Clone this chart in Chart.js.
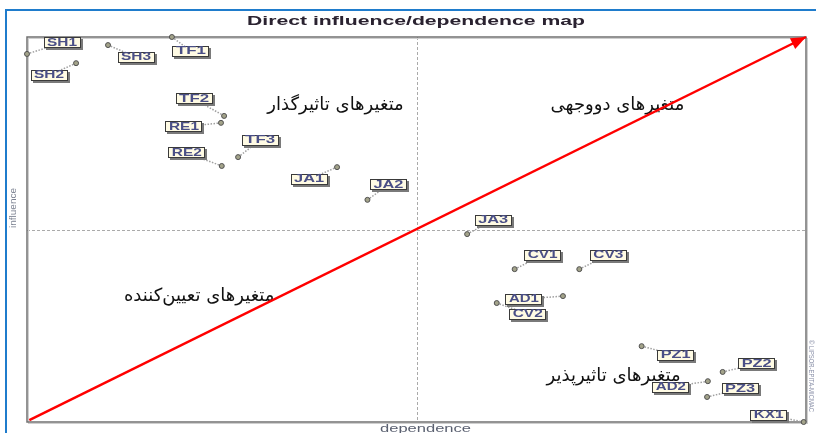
<!DOCTYPE html>
<html>
<head>
<meta charset="utf-8">
<script src="https://cdn.jsdelivr.net/npm/chart.js@4.4.1/dist/chart.umd.min.js"></script>
<style>
html,body{margin:0;padding:0;background:#fff;}
canvas{display:block;}
</style>
</head>
<body>
<canvas id="c" width="816" height="433"></canvas>
<script>
// ---- data ----
const names = ['SH1','SH2','SH3','TF1','TF2','RE1','TF3','RE2','JA1','JA2','JA3','CV1','CV3','AD1','CV2','PZ1','PZ2','AD2','PZ3','KX1'];
const dependence = [0.0, 6.3, 10.4, 18.6, 25.3, 24.9, 27.1, 25.0, 39.8, 43.7, 56.5, 62.6, 70.9, 68.8, 60.3, 78.9, 89.3, 87.4, 87.3, 99.7];
const influence  = [95.6, 93.2, 97.9, 100, 79.5, 77.7, 68.8, 66.5, 66.2, 57.7, 48.8, 39.7, 39.7, 32.7, 30.9, 19.7, 13.0, 10.6, 6.5, 0.0];
const axisMin = 0, axisMax = 100, axisMid = 50;
const arrowFrom = {x: 0.3, y: 0.5};
const arrowTo = {x: 100, y: 100};
const titleText = 'Direct influence/dependence map';
const xTitle = 'dependence';
const yTitle = 'influence';
const copyright = '© LIPSOR-EPITA-MICMAC';
const quadrantLabels = ['متغیرهای تاثیرگذار', 'متغیرهای دووجهی', 'متغیرهای تعیین‌کننده', 'متغیرهای تاثیرپذیر'];

// ---- layout (label offsets in px, quadrant label anchors in axis units) ----
const labelOffsets = [[35,-11],[-27,12],[28,12],[19,14],[-30,-17],[-37,4],[22,-17],[-35,-13],[-28,12],[21,-15],[26,-14],[28,-14],[29,-14],[-39,3],[31,11],[34,9],[34,-8],[-37,6],[33,-8],[-35,-7]];
const quadrantPos = [[39.6, 82.3],[75.8, 82.3],[22.1, 32.7],[75.3, 11.9]];

const points = dependence.map((d,i)=>({x:d, y:influence[i]}));

function stretchText(ctx, text, cx, cy, font, targetW, color){
  ctx.save();
  ctx.font = font;
  const w = ctx.measureText(text).width;
  const s = targetW / w;
  ctx.translate(cx, cy);
  ctx.scale(s, 1);
  ctx.fillStyle = color;
  ctx.textAlign = 'center';
  ctx.textBaseline = 'middle';
  ctx.fillText(text, 0, 0);
  ctx.restore();
}

const decor = {
  id: 'decor',
  beforeDatasetsDraw(chart){
    const ctx = chart.ctx, a = chart.chartArea;
    const xs = chart.scales.x, ys = chart.scales.y;
    ctx.save();
    // outer blue frame
    ctx.strokeStyle = '#1f7ccc';
    ctx.lineWidth = 2;
    ctx.beginPath();
    ctx.moveTo(6, 433); ctx.lineTo(6, 10); ctx.lineTo(816, 10);
    ctx.stroke();
    // title
    stretchText(ctx, titleText, 416, 22, 'bold 12px "Liberation Sans"', 338, '#2a2230');
    // mid lines
    ctx.strokeStyle = '#aaaaaa';
    ctx.lineWidth = 1;
    ctx.setLineDash([3,2]);
    const mx = Math.round(xs.getPixelForValue(axisMid)) + 0.5;
    const my = Math.round(ys.getPixelForValue(axisMid)) + 0.5;
    ctx.beginPath();
    ctx.moveTo(mx, a.top); ctx.lineTo(mx, a.bottom);
    ctx.moveTo(a.left, my); ctx.lineTo(a.right, my);
    ctx.stroke();
    ctx.setLineDash([]);
    // axes border
    ctx.strokeStyle = '#cfcfcf';
    ctx.lineWidth = 1;
    ctx.strokeRect(a.left+1.5, a.top+1.5, a.right-a.left, a.bottom-a.top);
    ctx.strokeStyle = '#707070';
    ctx.lineWidth = 1.5;
    ctx.strokeRect(a.left, a.top, a.right-a.left, a.bottom-a.top);
    // axis titles
    stretchText(ctx, xTitle, xs.getPixelForValue(axisMid)+9, 429, '11px "Liberation Sans"', 91, '#5a6070');
    ctx.save();
    ctx.translate(14, 208);
    ctx.rotate(-Math.PI/2);
    stretchText(ctx, yTitle, 0, 0, '9px "Liberation Sans"', 40, '#7a8090');
    ctx.restore();
    ctx.save();
    ctx.translate(811, 376);
    ctx.rotate(Math.PI/2);
    stretchText(ctx, copyright, 0, 0, '7px "Liberation Sans"', 72, '#8a90a8');
    ctx.restore();
    // quadrant labels
    ctx.font = '18px "DejaVu Sans"';
    ctx.fillStyle = '#111';
    ctx.textAlign = 'center';
    ctx.textBaseline = 'middle';
    ctx.direction = 'rtl';
    quadrantLabels.forEach((t,i)=>{
      ctx.fillText(t, xs.getPixelForValue(quadrantPos[i][0]), ys.getPixelForValue(quadrantPos[i][1]));
    });
    ctx.direction = 'ltr';
    // connectors
    const meta = chart.getDatasetMeta(0);
    ctx.strokeStyle = '#a0a0a0';
    ctx.lineWidth = 1.5;
    ctx.setLineDash([1.5,1.5]);
    meta.data.forEach((el,i)=>{
      const o = labelOffsets[i];
      ctx.beginPath();
      ctx.moveTo(el.x, el.y);
      ctx.lineTo(el.x + o[0], el.y + o[1]);
      ctx.stroke();
    });
    ctx.setLineDash([]);
    ctx.restore();
  },
  afterDatasetsDraw(chart){
    const ctx = chart.ctx;
    const xs = chart.scales.x, ys = chart.scales.y;
    ctx.save();
    // arrow head
    const x0 = xs.getPixelForValue(arrowFrom.x), y0 = ys.getPixelForValue(arrowFrom.y);
    const x1 = xs.getPixelForValue(arrowTo.x), y1 = ys.getPixelForValue(arrowTo.y);
    const ang = Math.atan2(y1-y0, x1-x0);
    const L = 15, W = 6;
    ctx.fillStyle = '#ff0000';
    ctx.beginPath();
    ctx.moveTo(x1, y1);
    ctx.lineTo(x1 - L*Math.cos(ang) + W*Math.sin(ang), y1 - L*Math.sin(ang) - W*Math.cos(ang));
    ctx.lineTo(x1 - L*Math.cos(ang) - W*Math.sin(ang), y1 - L*Math.sin(ang) + W*Math.cos(ang));
    ctx.closePath();
    ctx.fill();
    // label boxes
    const meta = chart.getDatasetMeta(0);
    const bw = 37, bh = 11;
    meta.data.forEach((el,i)=>{
      const o = labelOffsets[i];
      const cx = el.x + o[0], cy = el.y + o[1];
      const bx = Math.round(cx - bw/2), by = Math.round(cy - bh/2);
      ctx.fillStyle = '#7a7a7a';
      ctx.fillRect(bx+2, by+2, bw, bh);
      ctx.fillStyle = '#fffbe4';
      ctx.fillRect(bx, by, bw, bh);
      ctx.strokeStyle = '#3a3a3a';
      ctx.lineWidth = 1;
      ctx.strokeRect(bx+0.5, by+0.5, bw-1, bh-1);
      stretchText(ctx, names[i], cx, cy+0.5, 'bold 10px "Liberation Sans"', bw-7, '#4a4f86');
    });
    ctx.restore();
  }
};

new Chart(document.getElementById('c'), {
  type: 'scatter',
  data: {
    datasets: [
      {
        data: points,
        pointRadius: 2.5,
        pointBackgroundColor: '#a3a38a',
        pointBorderColor: '#505050',
        pointBorderWidth: 1,
        clip: false,
        order: 1
      },
      {
        type: 'line',
        data: [arrowFrom, arrowTo],
        borderColor: '#ff0000',
        borderWidth: 2.5,
        pointRadius: 0,
        showLine: true,
        fill: false,
        clip: false,
        order: 2
      }
    ]
  },
  options: {
    responsive: false,
    animation: false,
    layout: {padding: {left: 27, top: 37, right: 10, bottom: 11}},
    plugins: {legend: {display: false}, tooltip: {enabled: false}, title: {display: false}},
    scales: {
      x: {type: 'linear', min: axisMin, max: axisMax, display: false},
      y: {type: 'linear', min: axisMin, max: axisMax, display: false}
    }
  },
  plugins: [decor]
});
</script>
</body>
</html>
